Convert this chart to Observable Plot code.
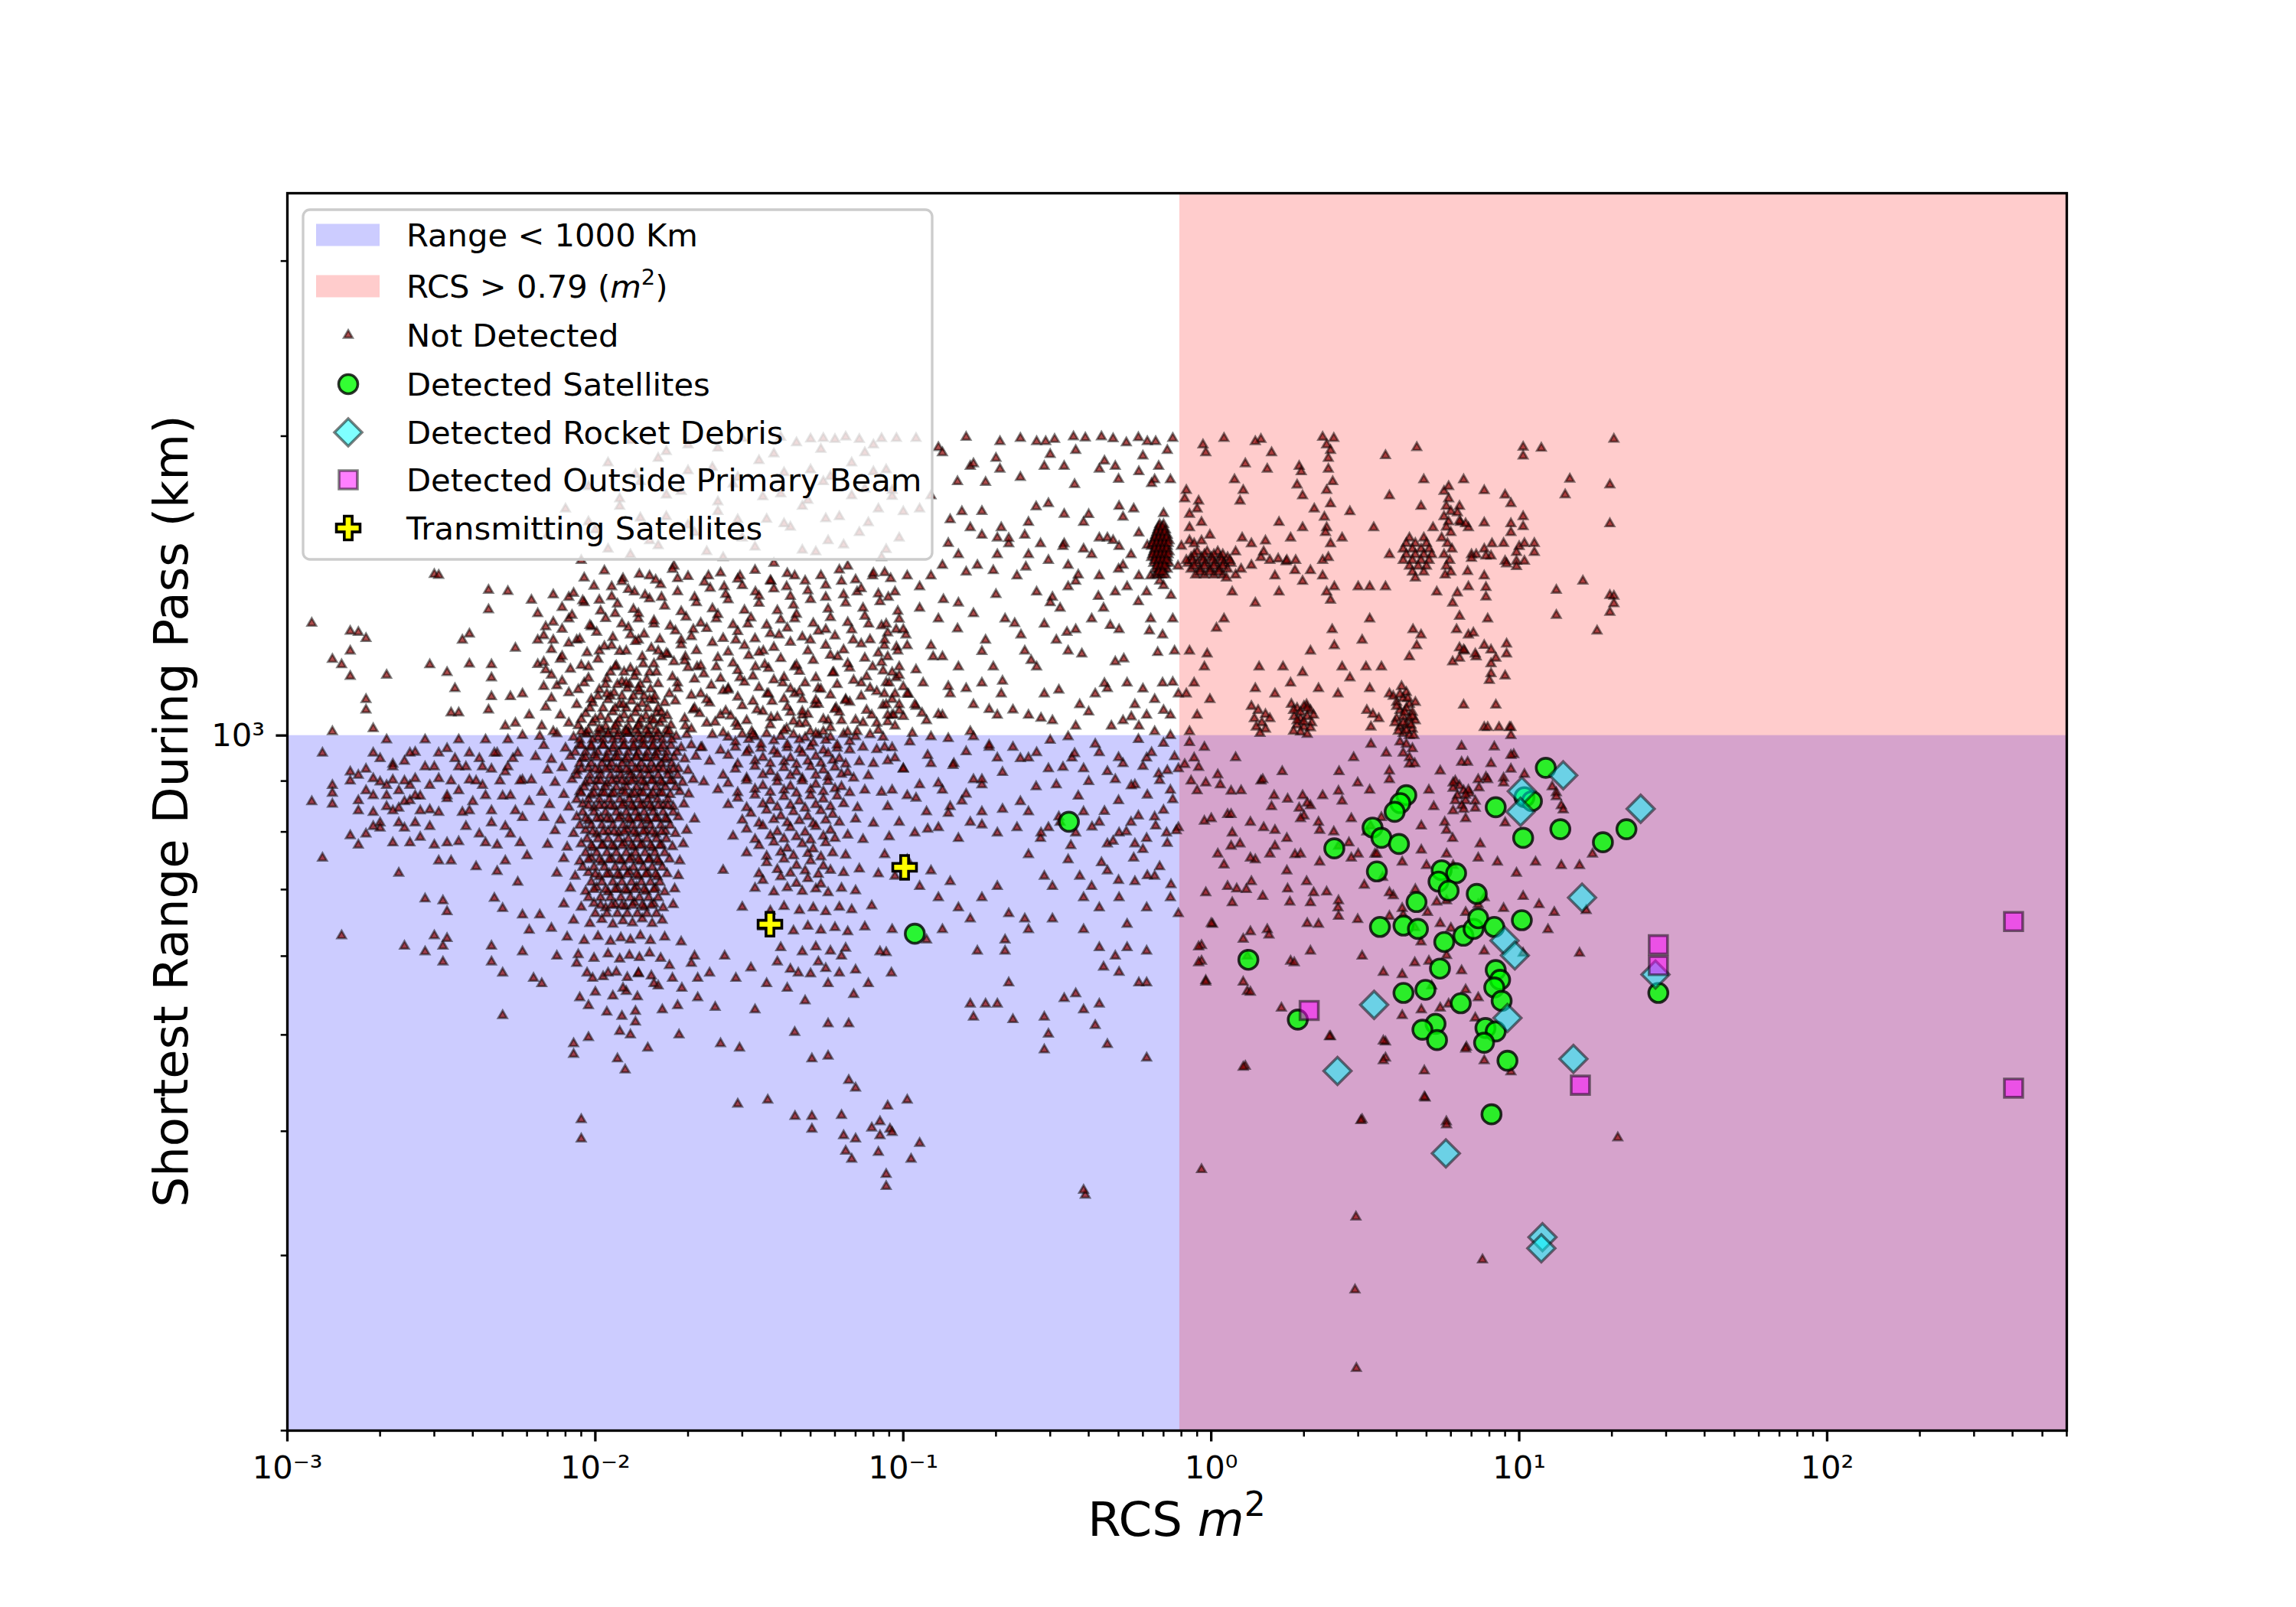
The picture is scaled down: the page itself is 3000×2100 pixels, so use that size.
<!DOCTYPE html>
<html><head><meta charset="utf-8">
<script src="https://cdn.jsdelivr.net/npm/d3@7"></script>
<script src="https://cdn.jsdelivr.net/npm/@observablehq/plot@0.6"></script>
<style>body{margin:0;background:#fff}#chart{width:3000px;height:2100px}</style>
</head><body><div id="chart"></div>
<script>
// ---------------- data (RCS m^2, shortest range km) ----------------
const xDomain = [0.001, 600];
const yDomain = [200, 3510];
const rangeThreshold = 1000;
const rcsThreshold = 0.79;
const xMajorTicks = [1e-3, 1e-2, 1e-1, 1, 10, 100];
const xTickLabels = ["10⁻³", "10⁻²", "10⁻¹", "10⁰", "10¹", "10²"];
const yMajorTicks = [1000];
const yTickLabels = ["10³"];
const yMinorTicks = [200, 300, 400, 500, 600, 700, 800, 900, 2000, 3000];
const xLabel = "RCS m²";
const yLabel = "Shortest Range During Pass (km)";
const legendLabels = ["Range < 1000 Km", "RCS > 0.79 (m²)", "Not Detected", "Detected Satellites", "Detected Rocket Debris", "Detected Outside Primary Beam", "Transmitting Satellites"];

const notDetectedFarLeft = [[0.0012,1297],[0.0016,1273],[0.0017,1270],[0.0018,1252],[0.0016,1216],[0.0014,1193],[0.0015,1178],[0.0016,1147],[0.0021,1150],[0.0029,1178],[0.0033,1157],[0.0035,1115],[0.0037,1247],[0.0039,1265],[0.0039,1180],[0.0046,1178],[0.0046,1143],[0.0046,1094],[0.0055,1224],[0.0018,1087],[0.0018,1061],[0.0019,1016],[0.0014,1009],[0.0034,1054],[0.0036,1054],[0.0053,1094],[0.0058,1101],[0.0045,1061],[0.0051,1022],[0.0055,1029],[0.0058,1000],[0.003,1452],[0.0031,1449],[0.0045,1400],[0.0052,1396],[0.0045,1338],
[0.0013,960],[0.0012,858],[0.0014,891],[0.0014,875],[0.0014,853],[0.0016,919],[0.0017,912],[0.0018,925],[0.002,948],[0.0022,936],[0.0024,942],[0.0026,962],[0.0019,837],[0.002,817],[0.002,807],[0.0018,796],[0.0017,776],[0.0016,793],[0.0023,880],[0.0024,858],[0.0027,869],[0.0029,891],[0.0026,817],[0.0021,848],[0.0021,891],[0.0025,891],[0.0023,817],[0.0024,807],[0.0013,753],[0.0023,727],[0.0015,629],[0.0024,614],[0.003,629],[0.0032,614],[0.0033,625],[0.0032,592],[0.0028,685],[0.0032,682],[0.0033,665],[0.0031,748],[0.0034,748],[0.0036,782],[0.003,776],[0.0033,970],[0.0035,948],[0.0038,930],[0.0042,948],[0.0039,902],[0.0036,880],[0.0033,864],[0.0031,837],[0.0037,837],[0.004,858],[0.0043,891],[0.0046,925],[0.0048,960],[0.0051,919],[0.0054,948],[0.0058,902],[0.005,869],[0.0046,817],[0.0042,796],[0.0048,776],[0.0053,796],[0.0058,827],[0.0061,858],[0.0041,738],[0.0048,730],[0.0051,748],[0.0056,712],[0.006,757],[0.0047,686],[0.005,670],[0.0058,660],[0.0061,637],[0.0028,606],[0.0046,614],[0.0046,592],[0.005,577],[0.0058,606],[0.0063,570],[0.0067,563],[0.005,523],[0.0019,905],[0.0021,870],[0.0022,902],[0.0023,845],[0.0025,860],[0.0026,905],[0.0028,930],[0.0017,860],[0.0018,880],[0.002,898],[0.0029,842],[0.0031,905],[0.0027,790],[0.0025,780],
[0.0021,990],[0.0028,990],[0.0036,990],[0.0044,990],[0.0052,990],[0.0019,960],[0.0025,960],[0.0031,960],[0.0039,960],[0.0047,960],[0.0056,960],[0.0022,930],[0.003,930],[0.0036,930],[0.0043,930],[0.0052,930],[0.0016,900],[0.0024,900],[0.0034,900],[0.0041,900],[0.0049,900],[0.0057,900],[0.0019,870],[0.0026,870],[0.0033,870],[0.0044,870],[0.0053,870],[0.0017,840],[0.0022,840],[0.0027,840],[0.0039,840],[0.0046,840],[0.0055,840],[0.0019,810],[0.0029,810],[0.0038,810],[0.0051,810],[0.0022,780],[0.0033,780],[0.0044,780],[0.0057,780]];

const notDetectedMainBlob = [[0.0117,1175],[0.013,1168],[0.0143,1180],[0.0109,1140],[0.0122,1133],[0.0134,1146],[0.0147,1138],[0.0103,1112],[0.0115,1104],[0.0127,1115],[0.0139,1107],[0.0151,1113],[0.0098,1078],[0.011,1086],[0.012,1075],[0.0131,1083],[0.0142,1077],[0.0155,1085],[0.0168,1079],[0.0093,1052],[0.0104,1045],[0.0114,1056],[0.0124,1048],[0.0135,1054],[0.0146,1046],[0.0158,1053],[0.0171,1047],[0.0088,1023],[0.0098,1030],[0.0108,1021],[0.0118,1028],[0.0128,1020],[0.0139,1027],[0.015,1022],[0.0162,1029],[0.0176,1024],
[0.0066,998],[0.0075,1004],[0.0085,996],[0.0094,1003],[0.0102,995],[0.011,1002],[0.0118,997],[0.0128,1005],[0.0139,994],[0.0148,1001],[0.0158,996],[0.0171,1003],[0.0183,998],[0.0198,1002],
[0.0068,977],[0.008,971],[0.0089,979],[0.0097,973],[0.0106,978],[0.0114,970],[0.0123,976],[0.0133,972],[0.0142,979],[0.0153,974],[0.0163,970],[0.0176,977],[0.019,972],[0.0205,978],[0.0222,973],
[0.0064,952],[0.0072,946],[0.0083,953],[0.0091,948],[0.0099,955],[0.0108,947],[0.0116,951],[0.0125,945],[0.0136,953],[0.0145,949],[0.0156,954],[0.0168,946],[0.018,951],[0.0195,947],[0.0212,953],
[0.007,923],[0.0078,928],[0.0087,921],[0.0095,927],[0.0103,922],[0.0111,929],[0.012,924],[0.0129,920],[0.0138,927],[0.0149,923],[0.016,928],[0.0173,921],[0.0186,926],[0.02,922],
[0.0062,902],[0.0074,897],[0.0084,903],[0.0093,896],[0.0101,901],[0.0109,895],[0.0117,903],[0.0126,898],[0.0134,904],[0.0144,897],[0.0154,902],[0.0165,896],[0.0178,901],[0.0192,897],[0.0208,903],[0.0225,898],
[0.0067,877],[0.0079,872],[0.0089,878],[0.0097,871],[0.0105,876],[0.0113,873],[0.0122,879],[0.0131,872],[0.014,877],[0.0151,870],[0.0162,876],[0.0175,872],[0.0188,878],[0.0201,873],
[0.0071,852],[0.0082,847],[0.0091,853],[0.0099,846],[0.0107,851],[0.0115,848],[0.0124,854],[0.0133,847],[0.0143,852],[0.0153,846],[0.0166,851],[0.0179,848],[0.0194,853],
[0.0068,827],[0.0077,822],[0.0087,828],[0.0095,821],[0.0104,826],[0.0112,823],[0.0121,829],[0.013,822],[0.0139,827],[0.0148,821],[0.0159,826],[0.0171,823],[0.0186,828],[0.021,824],
[0.0074,802],[0.0085,797],[0.0093,803],[0.0101,796],[0.011,801],[0.0119,798],[0.0127,804],[0.0136,797],[0.0146,802],[0.0157,796],[0.0169,801],[0.0182,797],[0.0198,803],
[0.007,777],[0.0081,772],[0.009,778],[0.0098,771],[0.0106,776],[0.0115,773],[0.0124,779],[0.0133,772],[0.0142,777],[0.0153,771],[0.0164,776],[0.0178,773],[0.0193,778],
[0.0079,752],[0.0089,747],[0.0097,753],[0.0105,746],[0.0113,751],[0.0122,748],[0.0131,754],[0.014,747],[0.015,752],[0.0161,746],[0.0174,751],[0.0188,748],
[0.0075,727],[0.0086,722],[0.0095,728],[0.0103,721],[0.0111,726],[0.012,723],[0.0129,729],[0.0138,722],[0.0148,727],[0.0159,721],[0.0171,726],[0.0186,723],
[0.0083,702],[0.0093,697],[0.0101,703],[0.011,696],[0.0118,701],[0.0127,698],[0.0136,704],[0.0146,697],[0.0157,702],[0.0168,696],[0.0181,701],
[0.0079,677],[0.009,672],[0.0099,678],[0.0108,671],[0.0116,676],[0.0125,673],[0.0134,679],[0.0144,672],[0.0155,677],[0.0166,671],[0.0179,676],
[0.0085,652],[0.0096,647],[0.0105,653],[0.0114,646],[0.0123,651],[0.0132,648],[0.0142,654],[0.0153,647],[0.0165,652],
[0.0081,627],[0.0092,622],[0.0102,628],[0.0112,621],[0.0121,626],[0.013,623],[0.014,629],[0.0151,622],[0.0168,627],
[0.0088,602],[0.0099,597],[0.011,603],[0.012,596],[0.0129,601],[0.0139,598],[0.015,604],[0.0163,597],
[0.0094,577],[0.0106,572],[0.0117,578],[0.0127,571],[0.0138,576],[0.0152,573],[0.01,552],[0.0114,547],[0.0126,553],[0.0137,546],[0.0109,527],[0.0122,522],[0.0135,528],
[0.0089,545],[0.0095,535],[0.0085,490],[0.0095,497],[0.0085,478],[0.012,504],[0.013,500],[0.0135,515],[0.0148,485],[0.0165,530],[0.0185,535],[0.0187,500],[0.0215,545],[0.0245,533],[0.0255,490],[0.0294,485],[0.033,530],[0.0118,473],[0.0125,461],[0.009,411],[0.009,393],[0.016,560],[0.0178,570],[0.0205,590],[0.019,620],[0.0215,570],[0.0075,600],[0.0072,640],[0.0066,660]];

const notDetectedBlobCore = [[0.0089,990],[0.0098,990],[0.0106,990],[0.0114,990],[0.0123,990],[0.0133,990],[0.0143,990],[0.0153,990],[0.0165,990],[0.0177,990],
[0.0086,962],[0.0093,962],[0.0102,962],[0.011,962],[0.0119,962],[0.0128,962],[0.0138,962],[0.0148,962],[0.0159,962],[0.0171,962],[0.0184,962],
[0.0089,937],[0.0097,937],[0.0105,937],[0.0113,937],[0.0122,937],[0.0131,937],[0.0141,937],[0.0152,937],[0.0164,937],[0.0177,937],
[0.0087,912],[0.0096,912],[0.0104,912],[0.0112,912],[0.0121,912],[0.013,912],[0.014,912],[0.0149,912],[0.016,912],[0.0172,912],[0.0185,912],
[0.0092,887],[0.01,887],[0.0108,887],[0.0117,887],[0.0126,887],[0.0136,887],[0.0146,887],[0.0157,887],[0.0169,887],[0.0182,887],
[0.0087,862],[0.0095,862],[0.0103,862],[0.0111,862],[0.012,862],[0.0129,862],[0.0138,862],[0.0148,862],[0.0159,862],[0.0172,862],
[0.0091,837],[0.0099,837],[0.0108,837],[0.0117,837],[0.0126,837],[0.0135,837],[0.0144,837],[0.0154,837],[0.0166,837],[0.0179,837],
[0.0089,812],[0.0097,812],[0.0105,812],[0.0114,812],[0.0123,812],[0.0132,812],[0.0141,812],[0.0151,812],[0.0163,812],[0.0175,812],
[0.0094,787],[0.0102,787],[0.011,787],[0.0119,787],[0.0128,787],[0.0137,787],[0.0147,787],[0.0158,787],[0.017,787],
[0.0093,762],[0.0101,762],[0.0109,762],[0.0117,762],[0.0126,762],[0.0135,762],[0.0145,762],[0.0156,762],[0.0168,762],
[0.0091,737],[0.0099,737],[0.0107,737],[0.0116,737],[0.0124,737],[0.0133,737],[0.0143,737],[0.0153,737],[0.0165,737],
[0.0097,712],[0.0105,712],[0.0114,712],[0.0122,712],[0.0131,712],[0.0141,712],[0.0151,712],[0.0162,712],
[0.0095,687],[0.0104,687],[0.0112,687],[0.0121,687],[0.013,687],[0.0139,687],[0.0149,687],[0.016,687],
[0.01,662],[0.0109,662],[0.0118,662],[0.0127,662],[0.0137,662],[0.0147,662],[0.0158,662],
[0.0093,1005],[0.0102,1005],[0.011,1005],[0.0119,1005],[0.0128,1005],[0.0138,1005],[0.0149,1005],[0.016,1005],
[0.009,977],[0.0097,977],[0.0106,977],[0.0115,977],[0.0124,977],[0.0133,977],[0.0144,977],[0.0154,977],[0.0166,977],
[0.0093,950],[0.0101,950],[0.0109,950],[0.0118,950],[0.0127,950],[0.0136,950],[0.0147,950],[0.0158,950],[0.017,950],
[0.009,925],[0.01,925],[0.0108,925],[0.0117,925],[0.0126,925],[0.0135,925],[0.0145,925],[0.0155,925],[0.0166,925],[0.0179,925],
[0.0096,900],[0.0104,900],[0.0113,900],[0.0122,900],[0.0131,900],[0.0141,900],[0.0152,900],[0.0163,900],[0.0175,900],
[0.009,875],[0.0099,875],[0.0107,875],[0.0115,875],[0.0125,875],[0.0134,875],[0.0143,875],[0.0154,875],[0.0165,875],
[0.0095,850],[0.0103,850],[0.0112,850],[0.0122,850],[0.0131,850],[0.014,850],[0.015,850],[0.016,850],[0.0172,850],
[0.0093,825],[0.0101,825],[0.0109,825],[0.0119,825],[0.0128,825],[0.0137,825],[0.0147,825],[0.0157,825],[0.0169,825],
[0.0098,800],[0.0106,800],[0.0115,800],[0.0124,800],[0.0133,800],[0.0143,800],[0.0153,800],[0.0164,800],
[0.0097,775],[0.0105,775],[0.0113,775],[0.0122,775],[0.0131,775],[0.014,775],[0.0151,775],[0.0162,775],
[0.0095,750],[0.0103,750],[0.0111,750],[0.012,750],[0.0129,750],[0.0138,750],[0.0149,750],[0.0159,750],
[0.01,725],[0.0109,725],[0.0118,725],[0.0127,725],[0.0136,725],[0.0146,725],[0.0157,725],
[0.0099,700],[0.0108,700],[0.0116,700],[0.0125,700],[0.0134,700],[0.0144,700],[0.0155,700],
[0.0104,675],[0.0113,675],[0.0122,675],[0.0132,675],[0.0142,675],[0.0152,675],
[0.0095,1012],[0.0105,1012],[0.0115,1012],[0.0125,1012],[0.0135,1012],[0.0146,1012],[0.0157,1012],[0.017,1012],
[0.009,1038],[0.01,1038],[0.011,1038],[0.012,1038],[0.013,1038],[0.0141,1038],[0.0152,1038],[0.0165,1038],
[0.0096,1065],[0.0106,1065],[0.0116,1065],[0.0126,1065],[0.0137,1065],[0.0148,1065],[0.016,1065],
[0.0102,1095],[0.0112,1095],[0.0122,1095],[0.0133,1095],[0.0144,1095],[0.0156,1095],
[0.0108,1125],[0.0118,1125],[0.0129,1125],[0.014,1125],[0.0112,1158],[0.0124,1158],[0.0136,1158]];

const notDetectedSecondBlob = [[0.024,1002],[0.027,996],[0.03,1003],[0.033,997],[0.036,1004],[0.04,998],[0.044,1002],[0.048,995],[0.053,1001],[0.058,996],[0.064,1003],[0.07,997],[0.078,1002],[0.086,996],
[0.022,972],[0.0255,966],[0.0285,973],[0.0315,967],[0.0345,971],[0.038,965],[0.042,972],[0.046,968],[0.05,974],[0.055,966],[0.061,971],[0.067,967],[0.074,973],[0.082,968],[0.092,972],
[0.0235,942],[0.029,936],[0.033,943],[0.037,937],[0.041,941],[0.045,935],[0.049,942],[0.054,938],[0.059,944],[0.065,936],[0.072,941],[0.08,937],[0.089,943],
[0.026,912],[0.031,906],[0.035,913],[0.039,907],[0.043,911],[0.047,905],[0.052,912],[0.057,908],[0.063,914],[0.069,906],[0.077,911],
[0.025,882],[0.029,876],[0.033,883],[0.037,877],[0.041,881],[0.045,875],[0.05,882],[0.055,878],[0.06,884],[0.067,876],[0.075,881],[0.085,877],
[0.027,852],[0.031,846],[0.035,853],[0.039,847],[0.043,851],[0.048,845],[0.052,852],[0.058,848],[0.064,854],[0.071,846],
[0.03,822],[0.034,816],[0.038,823],[0.042,817],[0.046,821],[0.051,815],[0.056,822],[0.062,818],[0.07,824],[0.08,816],
[0.028,792],[0.033,786],[0.037,793],[0.041,787],[0.045,791],[0.05,785],[0.055,792],[0.06,788],[0.066,794],[0.074,786],[0.09,791],
[0.031,762],[0.036,756],[0.04,763],[0.044,757],[0.049,761],[0.054,755],[0.059,762],[0.065,758],
[0.026,732],[0.034,726],[0.039,733],[0.043,727],[0.048,731],[0.053,725],[0.058,732],[0.064,728],[0.072,734],[0.083,726],
[0.033,702],[0.038,696],[0.042,703],[0.047,697],[0.052,701],[0.057,695],[0.063,702],[0.07,698],
[0.03,672],[0.037,666],[0.041,673],[0.046,667],[0.051,671],[0.056,665],[0.062,672],[0.068,668],[0.079,674],
[0.035,642],[0.044,636],[0.049,643],[0.054,637],[0.06,641],[0.066,635],[0.075,642],
[0.04,612],[0.047,606],[0.052,613],[0.058,607],[0.065,611],[0.088,605],[0.043,582],[0.05,576],[0.056,583],[0.062,577],[0.07,581],
[0.0087,590],[0.0098,570],[0.011,577],[0.0123,557],[0.0138,577],[0.0155,563],[0.0174,587],[0.0191,557],[0.021,600],[0.0235,577],[0.0263,600],[0.0286,570],[0.032,584],[0.036,563],[0.039,592],[0.042,557],[0.0456,577],[0.048,541],[0.053,592],[0.057,563],[0.063,600],[0.069,549],[0.077,563],[0.084,606],[0.0915,577],
[0.0444,503],[0.0505,473],[0.057,476],[0.0665,450],[0.07,442],[0.0665,513],[0.029,426],[0.0363,430],[0.0445,414],[0.0505,414],[0.0505,402],[0.063,415],[0.064,396],[0.07,393],[0.079,403],[0.084,396],[0.068,375],[0.083,381],[0.0905,402],[0.088,352],[0.057,513],[0.065,382],
[0.0285,985],[0.0315,991],[0.0345,980],[0.038,988],[0.042,979],[0.046,990],[0.051,983],[0.056,989],[0.061,978],[0.067,986],
[0.027,955],[0.031,961],[0.035,950],[0.039,958],[0.043,949],[0.047,960],[0.052,953],[0.057,959],[0.062,948],
[0.0285,925],[0.033,931],[0.037,920],[0.041,928],[0.045,919],[0.05,930],[0.055,923],[0.06,929],[0.066,918],
[0.027,895],[0.031,901],[0.035,890],[0.039,898],[0.043,889],[0.047,900],[0.052,893],[0.057,899],[0.063,888],
[0.029,865],[0.033,871],[0.037,860],[0.041,868],[0.046,859],[0.05,870],[0.055,863],[0.061,869],
[0.032,835],[0.036,841],[0.04,830],[0.044,838],[0.049,829],[0.054,840],[0.059,833],
[0.031,805],[0.035,811],[0.039,800],[0.043,808],[0.048,799],[0.052,810],[0.058,803],
[0.034,775],[0.038,781],[0.042,770],[0.047,778],[0.051,769],[0.056,780],
[0.036,745],[0.041,751],[0.045,740],[0.05,748],[0.055,739],[0.035,715],[0.04,721],[0.045,710],[0.049,718],[0.054,709]];

const notDetectedUpperMiddle = [[0.0065,1326],[0.0073,1385],[0.0082,1377],[0.0092,1360],[0.0103,1368],[0.0113,1411],[0.0123,1438],[0.0134,1394],[0.015,1447],[0.0164,1377],[0.0185,1438],
[0.0065,1179],[0.0069,1164],[0.0075,1122],[0.0077,1193],[0.0087,1247],[0.0097,1286],[0.0095,1172],[0.0103,1216],[0.0113,1231],[0.0116,1172],[0.0126,1216],[0.013,1262],[0.0138,1247],[0.0142,1200],[0.015,1157],[0.015,1087],[0.0138,1115],[0.0126,1129],[0.0123,1074],[0.0109,1101],[0.0097,1087],[0.0092,1129],[0.0087,1074],[0.0077,1048],[0.0069,1068],[0.0061,1048],[0.0067,1022],[0.0073,1009],[0.0082,1029],[0.009,1009],[0.0103,1016],[0.0116,1022],[0.0126,1009],[0.0138,1022],[0.0155,1035],[0.0164,1055],[0.0174,1101],[0.0185,1129],[0.018,1186],[0.0164,1200],[0.019,1247],[0.0208,1278],[0.0196,1200],[0.0214,1172],[0.022,1101],[0.0208,1061],[0.0196,1022],[0.0174,1009],[0.0116,1326],[0.0138,1310],[0.0155,1294],[0.016,1216],[0.0082,1310],[0.0073,1247],[0.0069,1286],[0.0065,1247],[0.0062,1368],
[0.0233,1447],[0.0262,1411],[0.0295,1447],[0.0331,1394],[0.0372,1429],[0.0418,1411],[0.0444,1447],[0.056,1377],[0.063,1429],[0.0708,1394],[0.0795,1447],[0.0894,1377],
[0.0247,1310],[0.0286,1247],[0.0313,1294],[0.0351,1216],[0.0395,1262],[0.0444,1310],[0.0499,1247],[0.056,1278],[0.0612,1200],[0.0688,1247],[0.0772,1294],[0.0868,1231],[0.0948,1278],
[0.0247,1172],[0.027,1115],[0.0295,1143],[0.0331,1172],[0.0361,1101],[0.0406,1129],[0.0444,1172],[0.047,1087],[0.0529,1115],[0.0594,1157],[0.065,1087],[0.073,1129],[0.0795,1172],[0.0868,1101],[0.0948,1143],
[0.0255,1048],[0.0286,1029],[0.0322,1009],[0.0372,1042],[0.0418,1016],[0.0482,1029],[0.055,1009],[0.063,1035],[0.0708,1009],[0.082,1029],[0.092,1048],[0.0444,1101],[0.047,1048],[0.0515,1074],[0.057,1035],[0.0499,1009],[0.0605,1066],[0.043,1055],
[0.013,1980],[0.02,1960],[0.03,1990],[0.045,1970],[0.06,1985],[0.08,1960],[0.095,1990],[0.011,1880],[0.016,1900],[0.024,1860],[0.034,1890],[0.05,1850],[0.068,1880],[0.088,1850],[0.0095,1780],[0.014,1800],[0.019,1760],[0.028,1790],[0.04,1750],[0.055,1800],[0.075,1770],[0.092,1740],[0.008,1690],[0.012,1700],[0.017,1660],[0.025,1680],[0.036,1650],[0.047,1700],[0.062,1660],[0.083,1690],[0.007,1590],[0.01,1610],[0.015,1570],[0.021,1600],[0.03,1580],[0.043,1620],[0.057,1570],[0.072,1600],[0.097,1580],[0.009,1500],[0.013,1520],[0.018,1480],[0.026,1510],[0.038,1490],[0.052,1530],[0.066,1480],[0.085,1510],
[0.011,1540],[0.016,1552],[0.023,1531],[0.033,1547],[0.047,1536],[0.064,1555],[0.088,1538],[0.0095,1640],[0.014,1655],[0.02,1628],[0.029,1648],[0.041,1633],[0.056,1652],[0.077,1637],[0.012,1730],[0.017,1745],[0.025,1718],[0.035,1738],[0.049,1724],[0.068,1742],[0.0135,1830],[0.02,1846],[0.029,1818],[0.041,1838],[0.058,1822],[0.08,1842],[0.017,1930],[0.025,1945],[0.038,1920],[0.054,1940],[0.075,1925],[0.04,1995],[0.05,1987],[0.065,1996],[0.085,1989]];

const notDetectedUpperBand = [[0.0205,1015],[0.023,1029],[0.026,1006],[0.029,1021],[0.0325,1002],[0.037,1025],[0.041,1011],[0.046,1027],[0.052,1004],[0.058,1018],[0.066,1008],[0.074,1030],[0.083,1012],[0.094,1022],[0.107,1005],
[0.0195,1040],[0.0218,1052],[0.0245,1031],[0.0275,1046],[0.031,1035],[0.035,1057],[0.039,1043],[0.044,1033],[0.049,1050],[0.055,1038],[0.062,1055],[0.07,1036],[0.079,1048],[0.089,1032],[0.1,1045],[0.115,1053],
[0.021,1065],[0.0235,1078],[0.0265,1058],[0.03,1071],[0.0335,1061],[0.0375,1082],[0.042,1068],[0.047,1057],[0.053,1075],[0.06,1062],[0.067,1080],[0.076,1060],[0.086,1072],[0.097,1059],[0.11,1070],
[0.0072,1090],[0.0082,1104],[0.0182,1083],[0.0205,1097],[0.023,1086],[0.026,1109],[0.029,1093],[0.0325,1082],[0.0365,1101],[0.041,1088],[0.046,1106],[0.052,1085],[0.058,1098],[0.065,1084],[0.073,1095],[0.082,1107],[0.092,1087],[0.104,1100],
[0.0068,1120],[0.0078,1134],[0.0088,1112],[0.016,1127],[0.0185,1115],[0.021,1139],[0.0238,1123],[0.027,1111],[0.0305,1131],[0.034,1117],[0.038,1137],[0.043,1114],[0.048,1129],[0.054,1113],[0.061,1125],[0.069,1136],[0.078,1116],[0.088,1130],[0.1,1119],
[0.0072,1150],[0.0083,1166],[0.0095,1142],[0.0158,1158],[0.0178,1145],[0.02,1170],[0.0225,1153],[0.0255,1141],[0.029,1162],[0.0325,1147],[0.0365,1168],[0.041,1144],[0.046,1160],[0.052,1143],[0.059,1156],[0.067,1169],[0.076,1146],[0.086,1161],[0.097,1149],[0.11,1164],
[0.0068,1185],[0.0078,1201],[0.009,1176],[0.0102,1193],[0.0155,1180],[0.0172,1206],[0.0195,1188],[0.022,1175],[0.025,1197],[0.028,1182],[0.0315,1203],[0.0355,1178],[0.04,1195],[0.045,1177],[0.051,1190],[0.058,1204],[0.066,1181],[0.075,1196],[0.085,1184],
[0.0072,1220],[0.0082,1238],[0.0094,1211],[0.0107,1229],[0.012,1215],[0.0135,1243],[0.0152,1224],[0.017,1209],[0.019,1233],[0.0213,1217],[0.024,1240],[0.027,1213],[0.0305,1231],[0.034,1212],[0.038,1226],[0.043,1241],[0.049,1216],[0.056,1232],[0.064,1219],[0.073,1236],[0.083,1210],[0.095,1227],
[0.0068,1260],[0.0078,1279],[0.0089,1250],[0.0101,1270],[0.0114,1255],[0.0128,1284],[0.0144,1264],[0.0162,1249],[0.0182,1274],[0.0205,1257],[0.023,1281],[0.026,1252],[0.029,1272],[0.033,1251],[0.037,1266],[0.042,1282],[0.047,1256],[0.053,1273],[0.06,1259],[0.068,1277],[0.078,1248],[0.089,1268],[0.102,1262],
[0.0073,1300],[0.0084,1321],[0.0096,1290],[0.0108,1311],[0.0122,1295],[0.0138,1326],[0.0155,1304],[0.0175,1288],[0.0197,1315],[0.022,1297],[0.025,1323],[0.028,1292],[0.032,1313],[0.036,1291],[0.04,1307],[0.045,1324],[0.051,1296],[0.058,1314],[0.066,1299],[0.075,1318],[0.085,1289],[0.097,1309],
[0.0078,1345],[0.0091,1366],[0.0104,1334],[0.0118,1356],[0.0133,1339],[0.015,1372],[0.0168,1349],[0.019,1332],[0.0213,1360],[0.024,1341],[0.027,1369],[0.0305,1336],[0.034,1358],[0.039,1335],[0.044,1352],[0.05,1370],[0.057,1340],[0.065,1359],[0.074,1343],[0.084,1363],[0.096,1333],
[0.0085,1390],[0.0099,1413],[0.0113,1379],[0.0128,1402],[0.0145,1384],[0.0163,1418],[0.0185,1395],[0.021,1377],[0.0236,1406],[0.0265,1386],[0.03,1415],[0.034,1381],[0.038,1404],[0.043,1380],[0.049,1398],[0.056,1416],[0.064,1385],[0.073,1405],[0.083,1388],
[0.0092,1440],[0.0107,1464],[0.0122,1428],[0.0139,1452],[0.0157,1433],[0.0178,1469],[0.02,1445],[0.0226,1426],[0.0255,1457],[0.029,1436],[0.033,1466],[0.037,1431],[0.042,1455],[0.048,1430],[0.054,1448],[0.062,1467],[0.07,1434],[0.08,1456],[0.091,1438]];

const notDetectedUpperCenter = [[0.206,1975],[0.271,1975],[0.29,1975],[0.357,1997],[0.44,1997],[0.53,1970],[0.62,1975],[0.66,1975],[0.72,1935],[0.13,1948],[0.134,1925],[0.165,1865],[0.169,1876],[0.185,1797],[0.206,1853],[0.287,1865],[0.363,1935],[0.333,1865],[0.433,1853],[0.488,1865],[0.582,1842],[0.655,1808],[0.737,1808],[0.675,1865],
[0.092,1764],[0.1,1679],[0.113,1690],[0.123,1742],[0.142,1648],[0.155,1679],[0.165,1618],[0.18,1590],[0.202,1580],[0.22,1559],[0.248,1590],[0.255,1520],[0.279,1559],[0.296,1500],[0.333,1559],[0.343,1483],[0.385,1540],[0.409,1520],[0.46,1580],[0.502,1549],[0.549,1520],[0.582,1598],[0.255,1638],[0.208,1618],[0.202,1520],[0.196,1465],[0.174,1483],[0.151,1520],[0.134,1483],[0.123,1447],[0.113,1411],[0.103,1447],[0.094,1394],[0.087,1458],[0.234,1447],[0.271,1394],[0.305,1377],[0.363,1429],[0.433,1447],[0.488,1394],[0.533,1411],[0.582,1447],[0.617,1394],[0.502,1700],[0.517,1658],[0.433,1580],[0.385,1638],[0.333,1669],[0.296,1711],
[0.087,1247],[0.089,1200],[0.092,1157],[0.096,1216],[0.088,1294],[0.097,1172],[0.09,1129],[0.094,1101],[0.1,1278],[0.088,1074],[0.093,1048],[0.103,1231],
[0.103,1101],[0.097,1074],[0.089,1048],[0.109,1074],[0.116,1129],[0.123,1231],[0.134,1200],[0.142,1101],[0.151,1172],[0.16,1115],[0.169,1074],[0.18,1129],[0.196,1172],[0.208,1101],[0.227,1061],[0.248,1216],[0.271,1172],[0.287,1101],[0.314,1247],[0.343,1216],[0.363,1278],[0.374,1074],[0.42,1101],[0.46,1115],[0.488,1186],[0.533,1129],[0.565,1074],[0.617,1048],[0.655,1087],[0.695,1129],[0.737,1048],[0.782,1101],[0.134,1048],[0.119,1035],[0.123,997],[0.165,1009],[0.169,997],[0.202,1048],[0.255,1048],[0.305,1035],[0.343,997],[0.363,1022],[0.474,1022],[0.517,1035],[0.582,1022],[0.655,1009],[0.737,1000],
[0.151,1359],[0.169,1326],[0.214,1310],[0.287,1294],[0.323,1343],[0.409,1310],[0.447,1343],[0.502,1278],[0.636,1310],[0.695,1262],[0.76,1216],[0.75,1310],[0.636,1447],[0.517,1483],[0.343,1411],[0.241,1262],[0.185,1247],[0.13,1310],[0.113,1343],
[0.055,1990],[0.072,1985],[0.11,1990],[0.16,1995],[0.24,1990],[0.31,1985],[0.39,1992],[0.48,1988],[0.58,1993],[0.75,1990],[1.1,1990],[1.45,1985],[2.3,1995],[2.5,1990],
[0.13,1050],[0.19,1062],[0.28,1041],[0.4,1056],[0.55,1044],[0.7,1060],[0.14,1120],[0.21,1134],[0.32,1111],[0.45,1128],[0.6,1114],[0.75,1131],[0.125,1200],[0.18,1215],[0.26,1190],[0.38,1208],[0.52,1194],[0.67,1212],[0.15,1280],[0.23,1296],[0.34,1270],[0.47,1290],[0.63,1274],[0.135,1370],[0.2,1386],[0.3,1360],[0.43,1380],[0.58,1363],[0.74,1383],[0.16,1460],[0.25,1477],[0.37,1450],[0.5,1470],[0.66,1453],[0.14,1560],[0.22,1578],[0.33,1549],[0.48,1571],[0.62,1553],[0.18,1680],[0.27,1698],[0.4,1668],[0.56,1690],[0.7,1672],[0.15,1800],[0.24,1818],[0.36,1788],[0.5,1810],[0.64,1792],[0.2,1900],[0.3,1917],[0.45,1888],[0.6,1910]];

const notDetectedColumns = [[0.68,1630],[0.70,1630],[0.67,1610],[0.69,1610],[0.71,1610],[0.66,1590],[0.68,1590],[0.70,1590],[0.72,1590],[0.65,1570],[0.67,1570],[0.69,1570],[0.71,1570],[0.73,1570],[0.64,1550],[0.66,1550],[0.68,1550],[0.70,1550],[0.72,1550],[0.65,1530],[0.67,1530],[0.69,1530],[0.71,1530],[0.73,1530],[0.64,1510],[0.66,1510],[0.68,1510],[0.70,1510],[0.72,1510],[0.65,1490],[0.67,1490],[0.69,1490],[0.71,1490],[0.73,1490],[0.66,1470],[0.68,1470],[0.70,1470],[0.72,1470],[0.67,1450],[0.69,1450],[0.71,1450],
[0.675,1620],[0.695,1620],[0.665,1600],[0.685,1600],[0.705,1600],[0.655,1580],[0.675,1580],[0.695,1580],[0.715,1580],[0.645,1560],[0.665,1560],[0.685,1560],[0.705,1560],[0.725,1560],[0.655,1540],[0.675,1540],[0.695,1540],[0.715,1540],[0.645,1520],[0.665,1520],[0.685,1520],[0.705,1520],[0.725,1520],[0.655,1500],[0.675,1500],[0.695,1500],[0.715,1500],[0.665,1480],[0.685,1480],[0.705,1480],[0.675,1460],[0.695,1460],[0.68,1430],[0.7,1415],
[0.9,1530],[0.97,1530],[1.05,1530],[0.86,1510],[0.93,1510],[1.0,1510],[1.07,1510],[1.13,1510],[0.84,1490],[0.9,1490],[0.96,1490],[1.03,1490],[1.1,1490],[1.16,1490],[0.86,1470],[0.92,1470],[0.99,1470],[1.06,1470],[1.13,1470],[0.89,1450],[0.95,1450],[1.02,1450],[1.09,1450],[0.8,1550],[0.83,1500],[0.78,1480],[0.85,1570],
[0.88,1520],[0.95,1520],[1.02,1520],[1.09,1520],[0.87,1500],[0.94,1500],[1.01,1500],[1.08,1500],[1.15,1500],[0.88,1480],[0.95,1480],[1.02,1480],[1.09,1480],[0.92,1460],[0.99,1460],[1.06,1460],[1.12,1440],[1.2,1450],[1.25,1470],
[1.45,1510],[1.55,1500],[1.65,1505],[1.75,1495],[1.88,1500]];

const notDetectedUpperRight = [[0.94,1960],[0.96,1925],[0.91,1721],[0.9,1690],[0.85,1669],[0.83,1764],[0.82,1730],[0.85,1618],[0.88,1559],[0.93,1569],[0.99,1590],[0.93,1638],
[1.04,1282],[0.97,1208],[0.85,1216],[0.95,1172],[0.88,1129],[0.83,1101],[0.99,1087],[0.9,1048],[0.85,1009],
[1.19,1808],[1.27,1764],[1.24,1721],[1.29,1876],[1.39,1975],[1.52,1853],[1.57,1925],[1.66,1638],[1.5,1569],[1.35,1559],[1.26,1580],[1.2,1530],[1.35,1483],[1.48,1530],[1.61,1447],[1.76,1500],[1.87,1465],[1.98,1429],[2.1,1465],[2.3,1500],[2.51,1411],[3.0,1411],[3.27,1411],
[2.37,1960],[2.44,1935],[2.4,1853],[2.37,1764],[2.44,1710],[2.33,1658],[2.37,1618],[2.44,1559],[2.4,1510],[2.3,1447],[2.37,1394],[2.44,1368],[2.4,1900],[2.48,1800],[2.35,1600],
[1.93,1865],[1.96,1842],[1.9,1786],[1.98,1742],[3.68,1912],[4.65,1948],
[4.4,1580],[4.9,1580],[4.3,1560],[4.6,1560],[5.0,1560],[4.2,1540],[4.5,1540],[4.8,1540],[5.1,1540],[4.3,1520],[4.6,1520],[4.9,1520],[5.2,1520],[4.2,1500],[4.5,1500],[4.8,1500],[5.1,1500],[4.4,1480],[4.7,1480],[5.0,1480],[4.5,1460],[4.9,1460],[4.6,1440],
[5.7,1760],[5.9,1730],[5.8,1700],[6.0,1680],[5.7,1660],[5.9,1640],[5.8,1620],[6.0,1600],[5.6,1580],[5.85,1560],[6.05,1540],[5.7,1520],[5.95,1500],[5.8,1480],[6.0,1460],[5.75,1450],[5.9,1780],
[6.45,1638],[6.84,1618],[7.25,1520],[7.7,1540],[8.16,1559],[4.52,1278],[4.65,1231],[4.8,1262],[4.4,1200],[6.08,1186],[6.65,1216],[7.25,1200],[6.84,1262],[6.26,1278],
[2.47,1278],[2.51,1231],[2.1,1216],[1.71,1172],[1.81,1129],[1.43,1172],[1.39,1115],[1.61,1101],[1.98,1157],[2.04,1074],[2.23,1115],[2.58,1101],[2.82,1143],[3.18,1172],[3.27,1115],[3.79,1101],[3.57,1172],[3.09,1247],[2.66,1172],
[1.35,1070],[1.42,1060],[1.5,1050],[1.38,1040],[1.46,1030],[1.55,1040],[1.4,1020],[1.5,1015],[1.44,1005],
[1.82,1075],[1.9,1065],[2.0,1070],[2.1,1060],[1.86,1045],[1.95,1040],[2.05,1045],[1.9,1025],[2.0,1020],[2.12,1030],[1.95,1008],[2.05,1003],
[1.85,1060],[1.95,1055],[2.05,1065],[2.15,1048],[1.9,1035],[2.0,1032],[2.1,1018],[1.85,1010],
[4.0,1080],[4.2,1090],[4.4,1075],[4.1,1060],[4.3,1065],[4.5,1055],[4.0,1040],[4.2,1045],[4.4,1040],[4.6,1035],[4.1,1020],[4.3,1025],[4.5,1015],[4.2,1005],[4.4,1000],[4.3,1105],[4.15,1120],[4.1,985],[4.3,980],[4.5,970],[4.2,960],[4.4,950],
[3.9,1095],[4.1,1100],[4.35,1090],[4.6,1080],[4.0,1070],[4.25,1055],[4.5,1045],[3.95,1030],[4.2,1030],[4.45,1025],[4.05,1010],[4.3,1012],[4.55,1000],
[3.2,1060],[3.35,1050],[3.5,1040],[3.3,1020],
[2.82,1679],[2.66,1580],[3.37,1618],[3.79,1742],[4.8,1700],[5.25,1618],[6.84,1411],[6.08,1359],[5.4,1394],[7.9,1310],[4.9,1808],[6.6,1808],[1.81,1580],[1.98,1618],[2.16,1690],[1.66,1394],[1.39,1359],[1.17,1394],[1.1,1310],[3.27,1310],[3.79,1520],[3.68,1411],[7.7,1447],
[10.3,1950],[11.8,1945],[10.3,1910],[20.3,1986],[14.6,1811],[19.7,1787],[14.1,1746],[19.7,1633],[7.7,1763],[9.0,1745],[9.4,1711],[6.4,1700],[6.3,1675],[6.4,1643],[6.7,1633],[7.7,1636],[10.3,1660],[10.3,1622],[9.4,1633],[9.4,1600],
[8.9,1560],[10.0,1549],[10.4,1560],[11.2,1560],[11.2,1528],[9.8,1528],[8.1,1515],[7.8,1515],[7.0,1520],[7.0,1507],[9.0,1497],[9.8,1497],[10.4,1497],[9.8,1479],[9.1,1488],[6.8,1462],
[16.1,1430],[13.2,1400],[19.7,1383],[20.3,1381],[20.3,1357],[19.7,1330],[13.2,1321],[17.9,1274],[6.3,1391],[7.8,1409],[7.8,1378],[6.4,1318],[7.1,1268],
[6.4,1225],[6.6,1219],[6.4,1196],[7.2,1208],[7.7,1232],[8.1,1219],[8.4,1196],[8.1,1181],[9.1,1236],[9.1,1208],[8.1,1154],[8.0,1136],[9.0,1148],[6.6,1073],[8.4,1073],[7.7,1019],[7.9,1019],[8.6,1019],[9.3,1019],[9.4,1019],[9.4,1000]];

const notDetectedLowerRight = [[6.5,975],[8.3,974],[9.6,957],[9.4,955],[6.5,940],[6.8,940],[9.4,925],[10.4,914],[7.8,908],[8.9,906],[7.4,886],[12.8,888],[13.2,876],[13.2,868],[13.7,850],[13.9,842],[6.2,900],[6.4,890],[6.6,880],[6.3,870],[6.7,860],[6.5,850],[6.2,860],[6.9,875],[6.1,885],[9.0,817],[7.2,859],[7.2,845],[6.6,843],
[0.85,984],[0.88,949],[0.95,973],[1.07,892],[1.13,833],[1.17,798],[1.24,778],[1.1,741],[1.13,705],[1.17,679],[1.35,713],[1.39,750],[1.48,808],[1.57,848],[1.76,788],[1.76,731],[1.87,759],[2.04,713],[2.1,679],[2.23,646],[2.37,696],[2.58,671],[0.93,615],[0.93,593],[0.96,567],[1.01,646],[1.31,600],[1.31,553],[1.52,638],[1.81,593],[2.44,498],[3.09,600],[3.68,474],[3.09,411],[4.95,432],[5.8,409],[0.93,366],[1.29,465],[2.95,328],[2.1,607],[2.23,818],[2.66,859],[3.27,881],[3.57,827],[3.79,903],[4.4,936],[5.09,881],[5.73,818],[6.08,788],[6.84,881],[7.47,778],[7.9,903],[7.7,687],[6.74,486],[5.9,537],[5.09,593],[7.7,607],[3.68,492],
[1.93,845],[2.0,830],[2.1,850],[1.98,870],[2.3,870],[2.5,800],[2.8,780],[3.0,760],[3.2,800],[3.4,760],[3.6,720],[3.9,690],[4.2,660],[4.6,700],[5.0,740],[5.4,680],[4.8,620],[5.2,560],[6.0,640],[6.5,580],[7.2,520],[1.25,880],[1.45,900],[1.6,870],[1.7,920],[1.2,950],[0.9,880],[0.95,820],[1.05,760],[1.3,700],[1.55,760],[1.8,680],[2.6,920],[2.9,950],[3.3,980],[3.7,960],[0.82,935],[0.86,900],
[0.91,929],[1.05,913],[0.96,896],[1.16,879],[1.47,903],[1.77,863],[2.05,855],[2.59,879],[2.99,896],[3.79,921],[4.58,937],[5.54,921],[6.1,896],[6.7,871],[7.36,903],[8.1,937],[8.9,896],[5.28,848],[6.1,840],[6.7,825],[5.81,803],[4.81,811],[3.29,811],[2.85,825],[2.25,803],[1.95,825],[1.61,803],[1.34,818],[1.16,833],[1.0,825],
[1.16,774],[1.34,753],[1.61,774],[1.95,760],[2.25,746],[2.59,774],[2.85,753],[3.45,760],[4.17,746],[4.81,767],[5.81,760],[6.1,740],[7.36,753],[8.5,746],[9.8,727],[11.3,746],[13.7,740],[15.7,740],[17.3,760],
[0.96,695],[1.21,701],[1.47,689],[1.77,701],[2.15,695],[2.59,682],[3.14,707],[3.79,695],[4.17,670],[5.04,664],[5.81,682],[6.7,664],[7.36,676],[8.9,670],[10.3,689],[11.6,676],[13.0,664],
[1.0,647],[1.34,635],[1.54,630],[2.05,647],[2.59,658],[2.99,653],[3.79,658],[4.58,641],[5.54,647],[1.27,624],[0.91,613],[0.91,591],[0.96,565],[1.27,565],[1.34,552],[1.86,591],[3.62,578],[4.17,575],[4.58,591],[5.81,601],[6.7,555],[7.36,545],[10.3,604],[12.4,638],[15.7,604],
[1.69,532],[2.42,498],[3.62,493],[3.62,471],[4.17,523],[4.81,530],[5.54,532],[6.7,484],[7.7,471],[9.4,459],[4.92,460],[4.92,433],[5.81,406],[3.06,410],[1.27,464],[7.6,297],[20.9,394],[16.5,667],[2.96,231],[2.93,277],[0.39,345]];

const notDetectedLowerCenter = [[0.087,973],[0.094,949],[0.1,926],[0.092,881],[0.103,870],[0.113,892],[0.123,937],[0.134,881],[0.146,937],[0.155,859],[0.169,903],[0.18,892],[0.19,973],[0.202,949],[0.227,973],[0.255,949],[0.271,961],[0.296,926],[0.314,892],[0.353,949],[0.385,926],[0.433,961],[0.488,903],[0.517,937],[0.565,892],[0.617,949],[0.675,915],[0.737,881],[0.782,926],
[0.089,848],[0.097,818],[0.109,798],[0.119,838],[0.13,808],[0.142,848],[0.151,788],[0.165,818],[0.18,838],[0.202,798],[0.234,808],[0.255,838],[0.279,788],[0.296,808],[0.323,818],[0.363,798],[0.385,838],[0.433,818],[0.46,778],[0.502,798],[0.549,818],[0.565,778],[0.617,788],[0.655,828],[0.716,798],[0.782,808],
[0.087,759],[0.094,722],[0.103,750],[0.113,705],[0.123,731],[0.13,687],[0.142,713],[0.151,671],[0.165,654],[0.18,687],[0.202,705],[0.22,662],[0.248,654],[0.255,759],[0.287,722],[0.305,705],[0.343,750],[0.374,722],[0.385,687],[0.409,705],[0.433,671],[0.46,731],[0.502,687],[0.533,646],[0.565,713],[0.617,671],[0.655,722],[0.737,687],[0.782,662],
[0.092,638],[0.119,623],[0.134,638],[0.174,607],[0.214,623],[0.255,638],[0.305,654],[0.385,638],[0.433,612],[0.488,600],[0.533,612],[0.617,607],[0.447,585],[0.502,578],[0.617,564],[0.22,564],[0.214,607],[0.165,537],[0.185,537],[0.202,537],[0.169,521],[0.227,518],[0.287,521],[0.296,501],[0.333,544],[0.363,550],[0.385,530],[0.433,537],[0.42,511],[0.46,489],[0.617,474],[0.582,564],[0.287,483],
[0.084,409],[0.089,424],[0.103,430],[0.092,399],[0.113,389],[0.106,375],[0.088,362],[0.385,349],
[0.105,985],[0.14,993],[0.19,978],[0.3,989],[0.42,980],[0.58,991],[0.7,982],[0.12,955],[0.16,963],[0.24,948],[0.36,959],[0.5,950],[0.64,961],[0.76,952],[0.1,925],[0.145,933],[0.21,918],[0.33,929],[0.46,920],[0.6,931],[0.72,922],[0.13,895],[0.18,903],[0.27,888],[0.4,899],[0.55,890],[0.68,901],[0.11,865],[0.16,873],[0.24,858],[0.37,869],[0.5,860],[0.62,871],[0.75,862],[0.14,835],[0.21,843],[0.32,828],[0.45,839],[0.58,830],[0.7,841],[0.12,805],[0.18,813],[0.28,798],[0.41,809],[0.53,800],[0.66,811],[0.77,802],[0.35,775],[0.48,783],[0.6,768],[0.72,779],[0.44,745],[0.56,753],[0.68,738],[0.5,715],[0.62,723],[0.74,708]];

const detectedSatellites = [[0.345,819],[0.109,632],[1.32,595],[1.91,518],[2.51,770],[4.30,871],[4.11,855],[3.94,838],[3.34,808],[3.57,789],[4.07,778],[12.2,928],[8.39,847],[10.4,867],[11.0,859],[10.3,789],[13.6,805],[18.7,781],[22.3,805],[3.45,730],[5.60,732],[6.24,727],[5.47,713],[5.90,698],[7.28,693],[4.64,680],[3.53,642],[4.21,644],[4.69,639],[5.71,620],[6.59,629],[7.11,639],[7.36,655],[8.30,642],[10.2,652],[5.53,583],[8.39,581],[8.67,568],[8.30,558],[8.77,541],[4.96,555],[4.21,551],[6.46,538],[5.35,513],[4.85,506],[5.41,494],[7.77,508],[8.39,504],[7.69,491],[9.16,471],[8.13,416],[28.3,551]];
const rocketDebris = [[13.9,912],[10.2,879],[10.1,838],[24.8,844],[16.0,687],[8.96,622],[9.68,601],[27.7,575],[3.38,536],[9.16,520],[2.57,460],[15.0,473],[5.78,380],[11.9,313],[11.8,305]];
const outsideBeam = [[2.08,529],[28.3,616],[28.3,587],[403,650],[403,442],[15.8,445]];
const transmitting = [[0.101,737],[0.0369,646]];

const notDetected = [...notDetectedFarLeft, ...notDetectedMainBlob, ...notDetectedBlobCore, ...notDetectedSecondBlob, ...notDetectedUpperMiddle, ...notDetectedUpperBand, ...notDetectedUpperCenter, ...notDetectedColumns, ...notDetectedUpperRight, ...notDetectedLowerRight, ...notDetectedLowerCenter];

// ---------------- styles ----------------
const S = {
  nd:  {symbol: d3.symbolTriangle, r: 4.2, fill: "#8b0000", fillOpacity: 0.7, stroke: "black", strokeOpacity: 0.5, strokeWidth: 2.8},
  sat: {symbol: d3.symbolCircle, r: 12.5, fill: "lime", fillOpacity: 0.8, stroke: "black", strokeOpacity: 0.8, strokeWidth: 3.6},
  deb: {symbol: d3.symbolDiamond2, r: 16.2, fill: "cyan", fillOpacity: 0.5, stroke: "black", strokeOpacity: 0.5, strokeWidth: 3.6},
  out: {symbol: d3.symbolSquare, r: 13.5, fill: "magenta", fillOpacity: 0.5, stroke: "black", strokeOpacity: 0.5, strokeWidth: 3.6},
  tx:  {symbol: d3.symbolCross, r: 13, fill: "yellow", fillOpacity: 1, stroke: "black", strokeOpacity: 1, strokeWidth: 3.6}
};

const xMinorTicks = [];
for (let e = -3; e <= 2; e++) for (let m = 2; m <= 9; m++) { const v = m * Math.pow(10, e); if (v <= xDomain[1]) xMinorTicks.push(v); }

const rangeSpan = [{x1: xDomain[0], x2: xDomain[1], y1: yDomain[0], y2: rangeThreshold}];
const rcsSpan = [{x1: rcsThreshold, x2: xDomain[1], y1: yDomain[0], y2: yDomain[1]}];
const xy = {x: d => d[0], y: d => d[1]};

const chart = Plot.plot({
  width: 3000, height: 2100,
  marginLeft: 375, marginRight: 300, marginTop: 252, marginBottom: 231,
  x: {type: "log", domain: xDomain},
  y: {type: "log", domain: yDomain},
  style: {fontFamily: "DejaVu Sans", background: "white", color: "black"},
  marks: [
    Plot.rect(rangeSpan, {x1: "x1", x2: "x2", y1: "y1", y2: "y2", fill: "blue", fillOpacity: 0.2}),
    Plot.rect(rcsSpan, {x1: "x1", x2: "x2", y1: "y1", y2: "y2", fill: "red", fillOpacity: 0.2}),
    Plot.dot(notDetected, {...xy, ...S.nd}),
    Plot.dot(detectedSatellites, {...xy, ...S.sat}),
    Plot.dot(rocketDebris, {...xy, ...S.deb}),
    Plot.dot(outsideBeam, {...xy, ...S.out}),
    Plot.dot(transmitting, {...xy, ...S.tx}),
    Plot.axisX(xMinorTicks, {tickSize: 8.3, strokeWidth: 2.5, tickFormat: () => "", label: null}),
    Plot.axisX(xMajorTicks, {tickSize: 14.6, strokeWidth: 3.3, tickPadding: 18, fontSize: 41.7, tickFormat: d => xTickLabels[xMajorTicks.indexOf(d)], label: null}),
    Plot.axisY(yMinorTicks, {tickSize: 8.3, strokeWidth: 2.5, tickFormat: () => "", label: null}),
    Plot.axisY(yMajorTicks, {tickSize: 14.6, strokeWidth: 3.3, tickPadding: 15, fontSize: 41.7, tickFormat: d => yTickLabels[yMajorTicks.indexOf(d)], label: null}),
    Plot.frame({stroke: "black", strokeWidth: 3.3})
  ]
});
document.getElementById("chart").appendChild(chart);

// ---------------- axis labels & legend ----------------
const svg = d3.select(chart);
const xl = svg.append("text").attr("x", 1537.5).attr("y", 2007).attr("text-anchor", "middle")
  .attr("font-size", 62.5).attr("font-family", "DejaVu Sans").attr("fill", "black");
xl.append("tspan").text(xLabel.replace(" m²", " "));
xl.append("tspan").attr("font-style", "italic").text("m");
xl.append("tspan").attr("dy", -26).attr("font-size", 44).text("2");

svg.append("text").attr("transform", "translate(245,1060) rotate(-90)").attr("text-anchor", "middle")
  .attr("font-size", 62.5).attr("font-family", "DejaVu Sans").attr("fill", "black").text(yLabel);

const lg = svg.append("g").attr("font-family", "DejaVu Sans").attr("text-anchor", "start");
lg.append("rect").attr("x", 396).attr("y", 274).attr("width", 822).attr("height", 457).attr("rx", 9)
  .attr("fill", "white").attr("fill-opacity", 0.8).attr("stroke", "#cccccc").attr("stroke-width", 3.3);
const legendRowY = [307, 374, 438, 502, 565, 627, 690];
const legendStyles = [{patch: "blue"}, {patch: "red"}, S.nd, S.sat, S.deb, S.out, S.tx];
legendLabels.forEach((label, i) => {
  const cy = legendRowY[i], st = legendStyles[i];
  if (st.patch) {
    lg.append("rect").attr("x", 413).attr("y", cy - 14.5).attr("width", 83).attr("height", 29)
      .attr("fill", st.patch).attr("fill-opacity", 0.2);
  } else {
    lg.append("path").attr("transform", `translate(455,${cy})`)
      .attr("d", d3.symbol(st.symbol, Math.PI * st.r * st.r)())
      .attr("fill", st.fill).attr("fill-opacity", st.fillOpacity)
      .attr("stroke", st.stroke).attr("stroke-opacity", st.strokeOpacity).attr("stroke-width", st.strokeWidth);
  }
  const t = lg.append("text").attr("x", 531).attr("y", cy + 15).attr("font-size", 41.7).attr("fill", "black").attr("text-anchor", "start");
  if (label.includes("(m²)")) {
    t.append("tspan").text(label.split("(m²)")[0] + "(");
    t.append("tspan").attr("font-style", "italic").text("m");
    t.append("tspan").attr("dy", -17).attr("font-size", 29).text("2");
    t.append("tspan").attr("dy", 17).text(")");
  } else {
    t.text(label);
  }
});
</script>
</body></html>
